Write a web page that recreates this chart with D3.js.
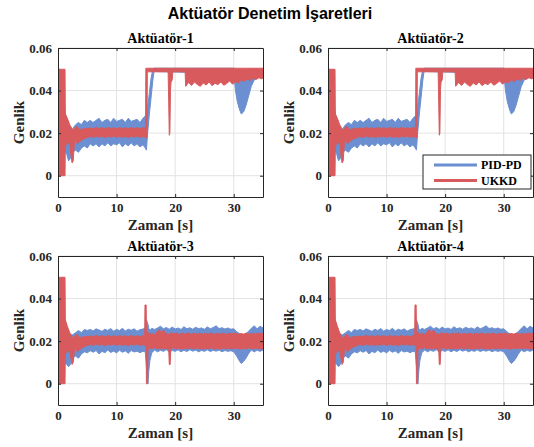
<!DOCTYPE html>
<html>
<head>
<meta charset="utf-8">
<script src="https://cdn.jsdelivr.net/npm/d3@7"></script>
<style>
  body { margin: 0; background: #fff; }
</style>
</head>
<body>
<div id="chart"></div>
<script>
// chart data
// each row: [time (s), lower edge, upper edge] of the signal band
const panelTitles = ['Aktüatör-1', 'Aktüatör-2', 'Aktüatör-3', 'Aktüatör-4'];
const seriesNames = ['PID-PD', 'UKKD'];
const xTicks = [0, 10, 20, 30];
const yTicks = [0, 0.02, 0.04, 0.06];
const yTickLabels = ['0', '0.02', '0.04', '0.06'];

// actuators 1 and 2
const pid12 = [
  [0,0,0.05],[0.3,0,0.05],[0.8,0.004,0.04],[1.2,0.012,0.03],[1.5,0.01,0.026],[1.8,0.007,0.024],
  [2.1,0.008,0.022],[2.5,0.011,0.022],[3,0.012,0.024],[3.5,0.011,0.025],[4,0.013,0.024],
  [4.5,0.014,0.026],[5,0.013,0.025],[5.5,0.015,0.026],[6,0.014,0.025],[6.5,0.015,0.026],
  [7,0.0135,0.027],[7.5,0.015,0.025],[8,0.014,0.026],[8.5,0.0155,0.0265],[9,0.014,0.025],
  [9.5,0.015,0.027],[10,0.0145,0.0255],[10.5,0.0155,0.026],[11,0.0135,0.0265],[11.5,0.015,0.025],
  [12,0.014,0.027],[12.5,0.0155,0.0255],[13,0.014,0.026],[13.5,0.015,0.0265],[14,0.0135,0.025],
  [14.5,0.0145,0.027],[14.9,0.013,0.028],[15.1,0.012,0.028],[15.3,0.02,0.032],[15.6,0.029,0.039],
  [15.9,0.037,0.046],[16.2,0.045,0.05],[16.4,0.049,0.0505],[30,0.048,0.0505],[30.3,0.04,0.05],
  [30.6,0.035,0.049],[31,0.031,0.048],[31.3,0.029,0.047],[31.7,0.03,0.048],[32.1,0.033,0.049],
  [32.5,0.037,0.05],[33,0.042,0.05],[33.5,0.045,0.05],[34,0.046,0.05],[34.5,0.047,0.05],[35,0.046,0.05]
];
const ukkd12 = [
  [0.1,0,0.05],[1.2,0,0.05],[1.25,0.014,0.029],[1.6,0.015,0.027],[2,0.016,0.024],[2.2,0.01,0.023],
  [2.4,0.006,0.022],[2.6,0.007,0.021],[2.8,0.016,0.022],[3,0.017,0.023],[3.3,0.015,0.023],
  [3.7,0.016,0.0215],[4.2,0.017,0.022],[5,0.018,0.0222],[5.5,0.0184,0.0224],[6,0.018,0.0221],
  [6.5,0.0186,0.0226],[7,0.0181,0.0222],[7.5,0.0185,0.0225],[8,0.0179,0.0221],[8.5,0.0184,0.0226],
  [9,0.0182,0.0222],[9.5,0.0186,0.0225],[10,0.018,0.0221],[10.5,0.0185,0.0226],[11,0.0181,0.0222],
  [11.5,0.0184,0.0225],[12,0.0179,0.0221],[12.5,0.0185,0.0226],[13,0.0182,0.0222],[13.5,0.0186,0.0225],
  [14,0.018,0.0221],[14.5,0.0184,0.0226],[14.95,0.0181,0.0223],[15,0.018,0.0505],[15.2,0.018,0.0505],
  [15.25,0.0488,0.0505],[18.8,0.0488,0.0505],[18.9,0.035,0.0505],[19,0.019,0.0505],[19.1,0.02,0.0505],
  [19.2,0.04,0.0505],[19.3,0.044,0.0505],[19.5,0.045,0.0505],[19.6,0.0488,0.0505],[21.7,0.0488,0.0505],
  [21.8,0.042,0.0505],[22.3,0.0438,0.0505],[22.8,0.0424,0.0505],[23.3,0.044,0.0505],[23.8,0.0428,0.0505],
  [24.3,0.042,0.0505],[24.8,0.0436,0.0505],[25.3,0.0426,0.0505],[25.8,0.0441,0.0505],[26.3,0.0423,0.0505],
  [26.8,0.0434,0.0505],[27.3,0.0428,0.0505],[27.8,0.044,0.0505],[28.3,0.0425,0.0505],[28.8,0.0433,0.0505],
  [29.3,0.0445,0.0505],[29.8,0.043,0.0505],[30.3,0.0442,0.0505],[30.8,0.0436,0.0505],[31.3,0.045,0.0505],
  [31.8,0.0443,0.0505],[32.3,0.0455,0.0505],[32.8,0.0447,0.0505],[33.3,0.0458,0.0505],[33.8,0.0452,0.0505],
  [34.3,0.046,0.0505],[34.8,0.0455,0.0505],[35,0.0459,0.0505]
];

// actuators 3 and 4
const pid34 = [
  [0,0,0.05],[0.3,0,0.048],[0.8,0.004,0.04],[1.2,0.01,0.03],[1.5,0.009,0.026],[1.8,0.008,0.024],
  [2.1,0.009,0.023],[2.5,0.012,0.023],[3,0.013,0.024],[3.5,0.012,0.025],[4,0.014,0.024],
  [4.5,0.015,0.0255],[5,0.0145,0.025],[5.5,0.0155,0.0255],[6,0.0148,0.0248],[6.5,0.0156,0.0258],
  [7,0.014,0.0252],[7.5,0.0152,0.0246],[8,0.0146,0.0256],[8.5,0.0158,0.025],[9,0.0147,0.0259],
  [9.5,0.0153,0.0247],[10,0.0145,0.0255],[10.5,0.0157,0.025],[11,0.0148,0.026],[11.5,0.0154,0.0248],
  [12,0.0143,0.0256],[12.5,0.0156,0.0251],[13,0.0149,0.0258],[13.5,0.0153,0.0247],[14,0.0146,0.0254],
  [14.5,0.0152,0.0257],[14.9,0.015,0.026],[15.1,0.008,0.03],[15.35,0,0.028],[15.5,0.006,0.026],
  [15.7,0.011,0.025],[16,0.0145,0.026],[16.5,0.0158,0.0255],[17,0.015,0.0262],[17.5,0.0157,0.027],
  [18,0.0152,0.0258],[18.5,0.016,0.0264],[19,0.0148,0.0256],[19.5,0.0156,0.0266],[20,0.0152,0.0257],
  [20.5,0.0159,0.0262],[21,0.015,0.0255],[21.5,0.0157,0.0268],[22,0.0151,0.0258],[22.5,0.016,0.0263],
  [23,0.0153,0.0256],[23.5,0.0158,0.0265],[24,0.015,0.0259],[24.5,0.0156,0.0262],[25,0.0152,0.0256],
  [25.5,0.0159,0.0267],[26,0.0151,0.0258],[26.5,0.0157,0.0264],[27,0.0153,0.0272],[27.5,0.0158,0.0259],
  [28,0.015,0.0263],[28.5,0.0156,0.0257],[29,0.0152,0.0262],[29.5,0.0155,0.0256],[30,0.015,0.0258],
  [30.5,0.013,0.0245],[31,0.0105,0.0235],[31.3,0.0095,0.0225],[31.7,0.0105,0.023],[32.1,0.012,0.0235],
  [32.5,0.014,0.0245],[33,0.0158,0.026],[33.5,0.015,0.0272],[34,0.0157,0.0258],[34.5,0.0152,0.027],
  [35,0.0158,0.0262]
];
const ukkd34 = [
  [0.1,0,0.05],[1.2,0,0.05],[1.25,0.014,0.03],[1.6,0.015,0.027],[2,0.016,0.024],[2.2,0.012,0.023],
  [2.4,0.009,0.022],[2.6,0.01,0.021],[2.8,0.016,0.022],[3,0.017,0.023],[3.3,0.015,0.023],
  [3.7,0.016,0.0215],[4.2,0.017,0.022],[5,0.018,0.0222],[5.5,0.0184,0.0224],[6,0.018,0.0221],
  [6.5,0.0186,0.0226],[7,0.0181,0.0222],[7.5,0.0185,0.0225],[8,0.0179,0.0221],[8.5,0.0184,0.0226],
  [9,0.0182,0.0222],[9.5,0.0186,0.0225],[10,0.018,0.0221],[10.5,0.0185,0.0226],[11,0.0181,0.0222],
  [11.5,0.0184,0.0225],[12,0.0179,0.0221],[12.5,0.0185,0.0226],[13,0.0182,0.0222],[13.5,0.0186,0.0225],
  [14,0.018,0.0221],[14.5,0.0184,0.0226],[14.8,0.0181,0.0223],[14.85,0.018,0.037],[15.05,0.018,0.037],
  [15.1,0,0.025],[15.3,0,0.024],[15.35,0.016,0.024],[15.7,0.0168,0.0232],[16,0.0164,0.0236],
  [16.5,0.017,0.0231],[17,0.0163,0.0245],[17.3,0.0168,0.0255],[17.6,0.0162,0.0238],[18,0.0167,0.0252],
  [18.4,0.0164,0.0236],[18.9,0.0166,0.0232],[19,0.009,0.023],[19.15,0.009,0.023],[19.25,0.0165,0.024],
  [19.7,0.0169,0.0234],[20.2,0.0163,0.0238],[20.7,0.0168,0.0231],[21.2,0.0162,0.0237],[21.7,0.0167,0.0233],
  [22.2,0.0164,0.0239],[22.7,0.0169,0.0232],[23.2,0.0163,0.0236],[23.7,0.0168,0.0233],[24.2,0.0165,0.0238],
  [24.7,0.0162,0.0232],[25.2,0.0167,0.0237],[25.7,0.0164,0.0233],[26.2,0.0169,0.0239],[26.7,0.0163,0.0232],
  [27.2,0.0166,0.0236],[27.7,0.0162,0.0233],[28.2,0.0168,0.0238],[28.7,0.0164,0.0231],[29.2,0.0167,0.0237],
  [29.7,0.0163,0.0234],[30.2,0.0168,0.0238],[30.7,0.0165,0.0232],[31.2,0.0162,0.0236],[31.7,0.0167,0.0233],
  [32.2,0.0164,0.0238],[32.7,0.0169,0.0232],[33.2,0.0163,0.0236],[33.7,0.0168,0.0233],[34.2,0.0165,0.0238],
  [34.7,0.0162,0.0234],[35,0.0166,0.0236]
];

const panelData = [[pid12, ukkd12], [pid12, ukkd12], [pid34, ukkd34], [pid34, ukkd34]];
const colors = ['#6b8fd0', '#d85a5d'];

const W = 534, H = 447;
const pw = 205, ph = 149;
const origins = [[58, 48], [328, 48], [58, 256], [328, 256]];
const serif = 'Liberation Serif, Times New Roman, serif';
const axisColor = '#262626';

const svg = d3.select('#chart')
  .append('svg')
    .attr('width', W)
    .attr('height', H);

svg.append('text')
  .attr('x', 270).attr('y', 19)
  .attr('text-anchor', 'middle')
  .attr('font-family', 'Liberation Sans, Arial, sans-serif')
  .attr('font-weight', 'bold')
  .attr('font-size', 16)
  .text('Aktüatör Denetim İşaretleri');

const x = d3.scaleLinear().domain([0, 35]).range([0, pw]);
const y = d3.scaleLinear().domain([-0.01, 0.06]).range([ph, 0]);

const area = d3.area()
  .x(d => x(d[0]))
  .y0(d => y(d[1]))
  .y1(d => y(d[2]));

origins.forEach((o, i) => {
  const g = svg.append('g')
    .attr('transform', 'translate(' + o[0] + ',' + o[1] + ')');

  // grid
  g.selectAll('.gx').data(xTicks.slice(1)).enter().append('line')
    .attr('x1', d => x(d)).attr('x2', d => x(d))
    .attr('y1', 0).attr('y2', ph)
    .attr('stroke', '#e3e3e3').attr('stroke-width', 1);
  g.selectAll('.gy').data(yTicks).enter().append('line')
    .attr('y1', d => y(d)).attr('y2', d => y(d))
    .attr('x1', 0).attr('x2', pw)
    .attr('stroke', '#e3e3e3').attr('stroke-width', 1);

  g.append('clipPath').attr('id', 'clip' + i)
    .append('rect').attr('width', pw).attr('height', ph);

  const plot = g.append('g').attr('clip-path', 'url(#clip' + i + ')');
  panelData[i].forEach((s, k) => {
    plot.append('path')
      .datum(s)
      .attr('fill', colors[k])
      .attr('stroke', colors[k])
      .attr('stroke-width', 1)
      .attr('stroke-linejoin', 'round')
      .attr('d', area);
  });

  // axes, ticks point inwards on all four sides
  g.append('g')
    .attr('transform', 'translate(0,' + ph + ')')
    .call(d3.axisBottom(x).tickValues(xTicks).tickSizeInner(-3).tickSizeOuter(0).tickPadding(6));
  g.append('g')
    .call(d3.axisLeft(y).tickValues(yTicks).tickFormat((d, j) => yTickLabels[j]).tickSizeInner(-3).tickSizeOuter(0).tickPadding(6));
  g.append('g')
    .call(d3.axisTop(x).tickValues(xTicks).tickSizeInner(-3).tickSizeOuter(0).tickFormat(''));
  g.append('g')
    .attr('transform', 'translate(' + pw + ',0)')
    .call(d3.axisRight(y).tickValues(yTicks).tickSizeInner(-3).tickSizeOuter(0).tickFormat(''));

  g.selectAll('.domain').attr('stroke', axisColor).attr('stroke-width', 1);
  g.selectAll('.tick line').attr('stroke', axisColor);
  g.selectAll('.tick text')
    .attr('font-family', serif)
    .attr('font-weight', 'bold')
    .attr('font-size', 13)
    .attr('fill', axisColor);

  g.append('text')
    .attr('x', pw / 2).attr('y', -5)
    .attr('text-anchor', 'middle')
    .attr('font-family', serif).attr('font-weight', 'bold').attr('font-size', 14)
    .text(panelTitles[i]);

  g.append('text')
    .attr('x', pw / 2).attr('y', ph + 33)
    .attr('text-anchor', 'middle')
    .attr('font-family', serif).attr('font-weight', 'bold').attr('font-size', 15)
    .attr('fill', axisColor)
    .text('Zaman [s]');

  g.append('text')
    .attr('transform', 'translate(' + (-34) + ',' + (ph / 2) + ') rotate(-90)')
    .attr('text-anchor', 'middle')
    .attr('font-family', serif).attr('font-weight', 'bold').attr('font-size', 15)
    .attr('fill', axisColor)
    .text('Genlik');
});

// legend in the second panel
const lg = svg.append('g').attr('transform', 'translate(423,155)');
lg.append('rect')
  .attr('width', 108).attr('height', 34)
  .attr('fill', '#fff').attr('stroke', axisColor).attr('stroke-width', 1);
seriesNames.forEach((name, k) => {
  const yy = 10 + k * 15.5;
  lg.append('line')
    .attr('x1', 11).attr('x2', 54).attr('y1', yy).attr('y2', yy)
    .attr('stroke', colors[k]).attr('stroke-width', 3);
  lg.append('text')
    .attr('x', 58).attr('y', yy + 4)
    .attr('font-family', serif).attr('font-weight', 'bold').attr('font-size', 12)
    .text(name);
});
</script>
</body>
</html>
